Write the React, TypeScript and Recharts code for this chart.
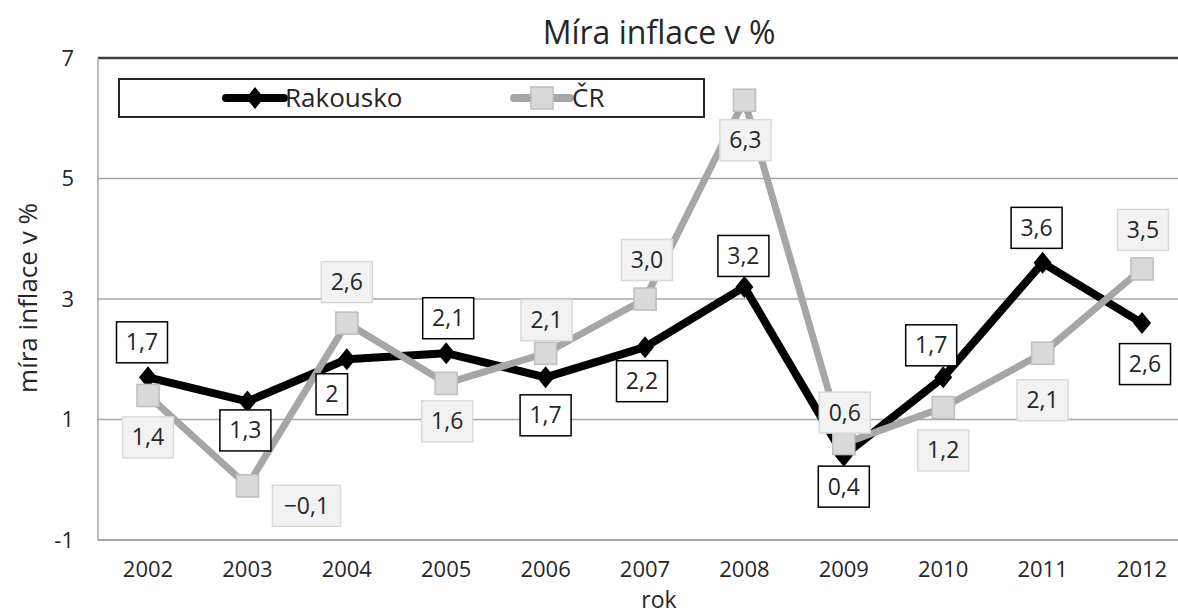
import { CartesianGrid, LabelList, Line, LineChart, ReferenceLine, XAxis, YAxis } from 'recharts'

const years = ['2002', '2003', '2004', '2005', '2006', '2007', '2008', '2009', '2010', '2011', '2012']
const rakousko = [1.7, 1.3, 2, 2.1, 1.7, 2.2, 3.2, 0.4, 1.7, 3.6, 2.6]
const cr = [1.4, -0.1, 2.6, 1.6, 2.1, 3.0, 6.3, 0.6, 1.2, 2.1, 3.5]
const yTicks = [-1, 1, 3, 5, 7]

const data = years.map((rok, i) => ({ rok, rakousko: rakousko[i], cr: cr[i] }))

// label box centre relative to the point, per year
const rakLabelShift = [
    [-6, -35], [-2, 29], [-15, 35], [2, -35], [0, 38], [-3, 34],
    [-1, -31], [0, 31], [-12, -32], [-6, -35], [3, 41],
]
const crLabelShift = [
    [0, 42], [59, 20], [0, -41], [1, 38], [1, -33], [2, -39],
    [1, 40], [1, -31], [0, 43], [0, 47], [1, -39],
]

const FONT = '"Open Sans", "Noto Sans", sans-serif'
const W = 1200
const H = 615

function fmtGeneral(v: number) {
    return String(v).replace('.', ',').replace('-', '−')
}
function fmtOne(v: number) {
    return v.toFixed(1).replace('.', ',').replace('-', '−')
}

function textWidth(s: string) {
    let w = 0
    for (const ch of s) {
        if (ch === ',') w += 6
        else if (ch === '−') w += 17
        else w += 13.5
    }
    return w + 18
}

function makeLabel(shift: number[][], fill: string, stroke: string, fmt: (v: number) => string) {
    return (props: any) => {
        const { x, y, value, index } = props
        if (x == null || y == null) return null
        const [dx, dy] = shift[index] ?? [0, -35]
        const text = fmt(Number(value))
        const w = textWidth(text)
        const h = 41
        const cx = x + dx
        const cy = y + dy
        return (
            <g>
                <rect x={cx - w / 2} y={cy - h / 2} width={w} height={h} fill={fill} stroke={stroke} strokeWidth={1.5} />
                <text x={cx} y={cy + 8} textAnchor="middle" fontFamily={FONT} fontSize={23} fill="#262626">
                    {text}
                </text>
            </g>
        )
    }
}

function Diamond(props: any) {
    const { cx, cy } = props
    if (cx == null || cy == null) return null
    return <path d={`M${cx},${cy - 11} L${cx + 9},${cy} L${cx},${cy + 11} L${cx - 9},${cy} Z`} fill="#000" />
}

function Square(props: any) {
    const { cx, cy } = props
    if (cx == null || cy == null) return null
    return (
        <g>
            <rect x={cx - 10} y={cy - 10} width={22} height={22} fill="#000" opacity={0.12} />
            <rect x={cx - 11} y={cy - 11} width={22} height={22} fill="#d9d9d9" stroke="#bfbfbf" strokeWidth={1.5} />
        </g>
    )
}

function LegendBox() {
    return (
        <div
            style={{
                position: 'absolute',
                left: 118,
                top: 78,
                width: 583,
                height: 36,
                border: '2px solid #262626',
                background: '#fff',
                fontFamily: FONT,
                fontSize: 26,
                color: '#262626',
            }}
        >
            <svg width={70} height={36} style={{ position: 'absolute', left: 102, top: 0 }}>
                <line x1={4} y1={18} x2={62} y2={18} stroke="#000" strokeWidth={8} strokeLinecap="round" />
                <path d="M33,7 L42,18 L33,29 L24,18 Z" fill="#000" />
            </svg>
            <span style={{ position: 'absolute', left: 165, top: -3, lineHeight: '40px' }}>Rakousko</span>
            <svg width={70} height={36} style={{ position: 'absolute', left: 390, top: 0 }}>
                <line x1={4} y1={18} x2={60} y2={18} stroke="#a6a6a6" strokeWidth={8} strokeLinecap="round" />
                <rect x={21} y={7} width={22} height={22} fill="#d9d9d9" stroke="#bfbfbf" strokeWidth={1.5} />
            </svg>
            <span style={{ position: 'absolute', left: 452, top: -3, lineHeight: '40px' }}>ČR</span>
        </div>
    )
}

export default function App() {
    return (
        <div
            style={{
                position: 'fixed',
                left: 0,
                top: 0,
                width: 1178,
                height: 615,
                overflow: 'hidden',
                background: '#fff',
            }}
        >
            <div
                style={{
                    position: 'absolute',
                    left: 0,
                    width: 1318,
                    top: 10,
                    textAlign: 'center',
                    fontFamily: FONT,
                    fontSize: 32,
                    color: '#262626',
                    lineHeight: '44px',
                }}
            >
                Míra inflace v %
            </div>
            <LineChart
                width={W}
                height={H}
                data={data}
                margin={{ top: 58, right: 8, left: 38, bottom: 35 }}
                style={{ position: 'absolute', left: 0, top: 0 }}
            >
                <CartesianGrid vertical={false} stroke="#a6a6a6" strokeWidth={1.5} />
                <XAxis
                    dataKey="rok"
                    padding={{ left: 50, right: 50 }}
                    height={40}
                    tickLine={false}
                    tickSize={0}
                    tickMargin={21}
                    stroke="#a6a6a6"
                    strokeWidth={2}
                    tick={{ fill: '#262626', fontSize: 22, fontFamily: FONT }}
                    interval={0}
                    label={() => (
                        <text x={659} y={608} textAnchor="middle" fontFamily={FONT} fontSize={23} fill="#262626">
                            rok
                        </text>
                    )}
                />
                <YAxis
                    type="number"
                    domain={[-1, 7]}
                    ticks={yTicks}
                    width={60}
                    tickLine={false}
                    tickSize={0}
                    tickMargin={24}
                    stroke="#a6a6a6"
                    strokeWidth={1.5}
                    tick={{ fill: '#262626', fontSize: 22, fontFamily: FONT }}
                    label={() => (
                        <text
                            x={37}
                            y={298}
                            transform="rotate(-90, 37, 298)"
                            textAnchor="middle"
                            fontFamily={FONT}
                            fontSize={26}
                            fill="#262626"
                        >
                            míra inflace v %
                        </text>
                    )}
                />
                <ReferenceLine y={7} stroke="#404040" strokeWidth={2.5} />
                <Line
                    dataKey="rakousko"
                    name="Rakousko"
                    stroke="#000"
                    strokeWidth={8}
                    strokeLinejoin="round"
                    dot={<Diamond />}
                    activeDot={false}
                    isAnimationActive={false}
                >
                    <LabelList dataKey="rakousko" content={makeLabel(rakLabelShift, '#fff', '#000', fmtGeneral)} />
                </Line>
                <Line
                    dataKey="cr"
                    name="ČR"
                    stroke="#a6a6a6"
                    strokeWidth={7}
                    strokeLinejoin="round"
                    dot={<Square />}
                    activeDot={false}
                    isAnimationActive={false}
                >
                    <LabelList dataKey="cr" content={makeLabel(crLabelShift, '#f2f2f2', '#d9d9d9', fmtOne)} />
                </Line>
            </LineChart>
            <LegendBox />
        </div>
    )
}
